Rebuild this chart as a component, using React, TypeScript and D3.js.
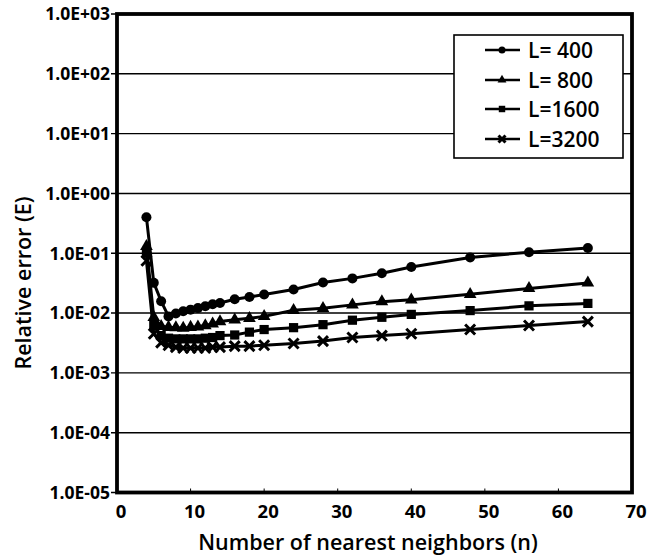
import React from "react";
import * as d3 from "d3";

const nValues = [4, 5, 6, 7, 8, 9, 10, 11, 12, 13, 14, 16, 18, 20, 24, 28, 32, 36, 40, 48, 56, 64];
const L400 = [0.40, 0.032, 0.0158, 0.0088, 0.0098, 0.0107, 0.0114, 0.0121, 0.0130, 0.0140, 0.0147, 0.0170, 0.0186, 0.0204, 0.0247, 0.0325, 0.038, 0.0463, 0.059, 0.085, 0.104, 0.122];
const L800 = [0.13, 0.0085, 0.0060, 0.0058, 0.0057, 0.0056, 0.0058, 0.0059, 0.0062, 0.0066, 0.0072, 0.0077, 0.0082, 0.0088, 0.0111, 0.0120, 0.0137, 0.0155, 0.0167, 0.0206, 0.0258, 0.0319];
const L1600 = [0.10, 0.0062, 0.0042, 0.0038, 0.0037, 0.0037, 0.0037, 0.0037, 0.0038, 0.0039, 0.0042, 0.0043, 0.0048, 0.0053, 0.0057, 0.0064, 0.0076, 0.0085, 0.0095, 0.0110, 0.0132, 0.0145];
const L3200 = [0.075, 0.0045, 0.0032, 0.0029, 0.0027, 0.0026, 0.0026, 0.0026, 0.0026, 0.0027, 0.0027, 0.0028, 0.0028, 0.0029, 0.0031, 0.0034, 0.0039, 0.0042, 0.0045, 0.0053, 0.0062, 0.0072];
const seriesNames = ["L= 400", "L= 800", "L=1600", "L=3200"];
const seriesValues = [L400, L800, L1600, L3200];
const seriesMarkers = ["circle", "triangle", "square", "x"];
const xTicks = [0, 10, 20, 30, 40, 50, 60, 70];
const yTicks = [1e3, 1e2, 1e1, 1e0, 1e-1, 1e-2, 1e-3, 1e-4, 1e-5];
const yTickLabels = ["1.0E+03", "1.0E+02", "1.0E+01", "1.0E+00", "1.0E-01", "1.0E-02", "1.0E-03", "1.0E-04", "1.0E-05"];

const W = 661, H = 559;
const left = 117, right = 632, top = 14, bottom = 492.5;
const FONT = "'Open Sans', 'DejaVu Sans', sans-serif";

function markerPath(kind: string, s: number): string {
  if (kind === "circle") return d3.symbol(d3.symbolCircle, Math.PI * s * s)() as string;
  if (kind === "triangle") return d3.symbol(d3.symbolTriangle, s * s * 2.8)() as string;
  if (kind === "square") return d3.symbol(d3.symbolSquare, s * s * 3.4)() as string;
  const p = d3.path();
  p.moveTo(-s, -s); p.lineTo(s, s); p.moveTo(-s, s); p.lineTo(s, -s);
  return p.toString();
}

function Marker({ kind, x, y, s }: { kind: string; x: number; y: number; s: number }) {
  const d = markerPath(kind, s);
  if (kind === "x") {
    return <path d={d} transform={`translate(${x},${y})`} fill="none" stroke="#000" strokeWidth={3} />;
  }
  return <path d={d} transform={`translate(${x},${y})`} fill="#000" />;
}

export default function App() {
  const x = d3.scaleLinear().domain([0, 70]).range([left, right]);
  const y = d3.scaleLog().domain([1e-5, 1e3]).range([bottom, top]);
  const line = d3.line<[number, number]>().x(d => x(d[0])).y(d => y(d[1]));

  const legendY = [50, 80, 109, 139];

  return (
    <svg width={W} height={H} style={{ position: "absolute", left: 0, top: 0, background: "#fff" }}>
      <rect x={0} y={0} width={W} height={H} fill="#fff" />
      {yTicks.map((t, i) => (
        <line key={"g" + i} x1={left - 6} x2={right} y1={y(t)} y2={y(t)} stroke="#000" strokeWidth={1.4} />
      ))}
      {xTicks.slice(1, -1).map((t, i) => (
        <line key={"xt" + i} x1={x(t)} x2={x(t)} y1={bottom} y2={bottom - 4} stroke="#000" strokeWidth={1} />
      ))}
      {seriesValues.map((vals, si) => {
        const pts: [number, number][] = nValues.map((n, i) => [n, vals[i]]);
        return (
          <g key={"s" + si}>
            <path d={line(pts) as string} fill="none" stroke="#000" strokeWidth={3} />
            {pts.map((p, i) => (
              <Marker key={i} kind={seriesMarkers[si]} x={x(p[0])} y={y(p[1])} s={5} />
            ))}
          </g>
        );
      })}
      <rect x={left} y={top} width={right - left} height={bottom - top} fill="none" stroke="#000" strokeWidth={3.8} />
      {yTicks.map((t, i) => (
        <text key={"yl" + i} x={110} y={y(t)} dy="0.36em" textAnchor="end" fontFamily={FONT} fontWeight={700} fontSize={17.5} fill="#000">
          {yTickLabels[i]}
        </text>
      ))}
      {xTicks.map((t, i) => (
        <text key={"xl" + i} x={x(t) + 4} y={518} textAnchor="middle" fontFamily={FONT} fontWeight={700} fontSize={18.5} fill="#000">
          {t}
        </text>
      ))}
      <text x={368} y={550} textAnchor="middle" fontFamily={FONT} fontWeight={600} fontSize={21.5} fill="#000">
        Number of nearest neighbors (n)
      </text>
      <text transform={`translate(31,${283}) rotate(-90)`} textAnchor="middle" fontFamily={FONT} fontWeight={600} fontSize={21.5} fill="#000">
        Relative error (E)
      </text>
      <rect x={454} y={35} width={169} height={123} fill="#fff" stroke="#000" strokeWidth={1.6} />
      {seriesNames.map((name, i) => (
        <g key={"lg" + i}>
          <line x1={485} x2={520} y1={legendY[i]} y2={legendY[i]} stroke="#000" strokeWidth={2.4} />
          <Marker kind={seriesMarkers[i]} x={502} y={legendY[i]} s={3.5} />
          <text x={528} y={legendY[i]} dy="0.36em" fontFamily={FONT} fontWeight={600} fontSize={21} fill="#000">
            {name}
          </text>
        </g>
      ))}
    </svg>
  );
}
